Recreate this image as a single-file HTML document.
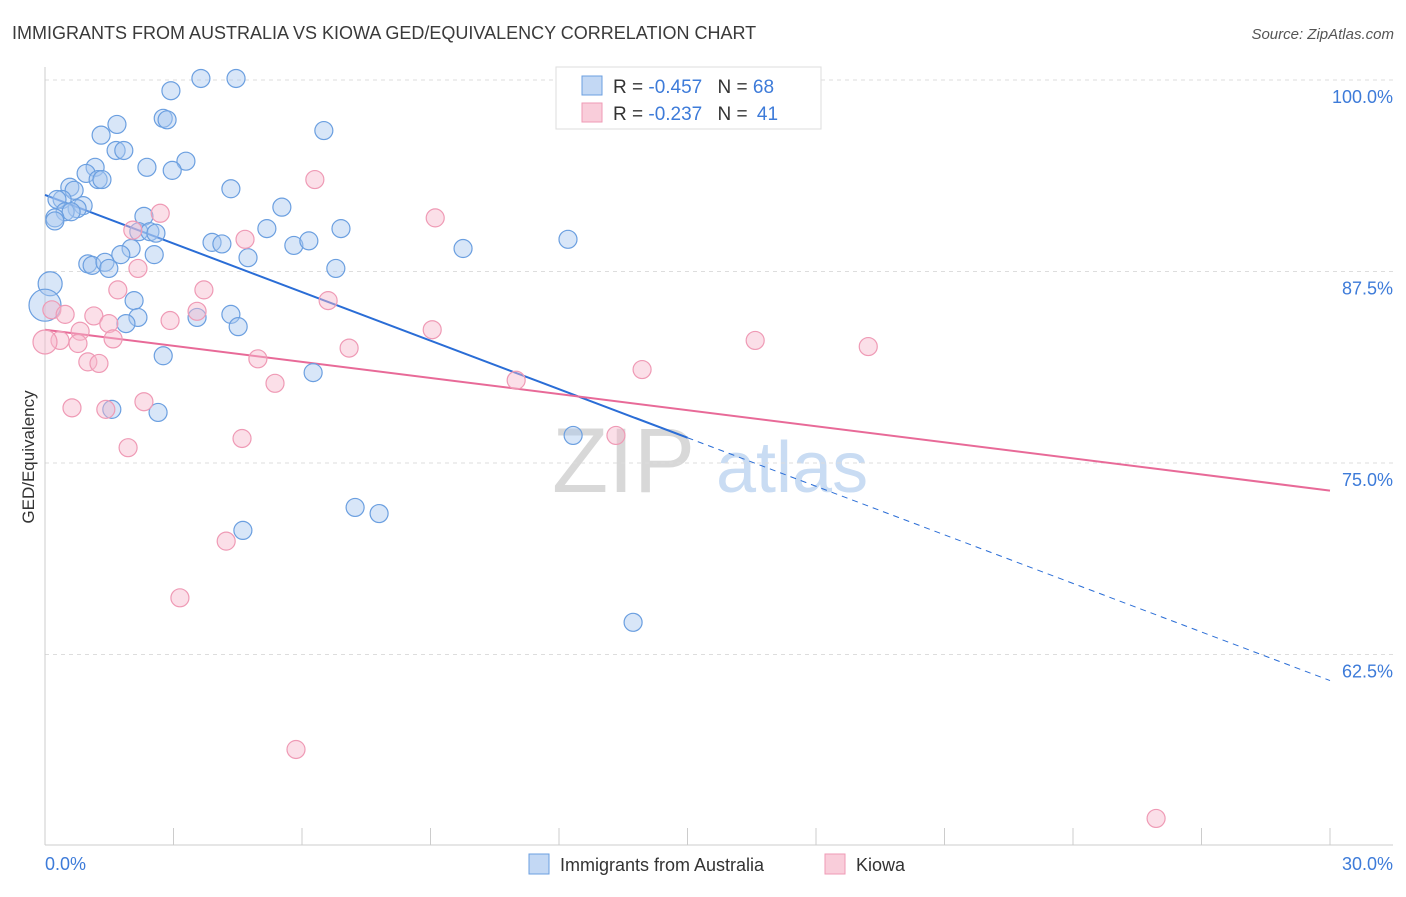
<!DOCTYPE html>
<html><head><meta charset="utf-8">
<style>
body{margin:0;background:#fff;font-family:"Liberation Sans",sans-serif;}
svg text{font-family:"Liberation Sans",sans-serif;}
</style></head>
<body>
<svg id="chart" width="1406" height="892" viewBox="0 0 1406 892" xmlns="http://www.w3.org/2000/svg">
<text x="12" y="39" font-size="18" fill="#3a3a3a">IMMIGRANTS FROM AUSTRALIA VS KIOWA GED/EQUIVALENCY CORRELATION CHART</text>
<text x="1394" y="39" font-size="15" fill="#555" text-anchor="end" font-style="italic">Source: ZipAtlas.com</text>
<g>
<text x="552" y="492" font-size="92" fill="#d8d8d8" font-family="Liberation Serif">ZIP</text>
<text x="716" y="492" font-size="72" fill="#c9dcf3">atlas</text>
</g>
<g id="grid"></g>
<g id="axes"></g>
<g id="trend"></g>
<g id="points"></g>
<text transform="translate(34,457) rotate(-90)" font-size="17" fill="#333" text-anchor="middle">GED/Equivalency</text>
<g>
<rect x="556" y="67" width="265" height="62" fill="#fff" stroke="#ddd"/>
<rect x="582" y="76" width="20" height="19" fill="#a9c8f0" fill-opacity="0.7" stroke="#6b9fe0"/>
<rect x="582" y="103" width="20" height="19" fill="#f6b8cb" fill-opacity="0.7" stroke="#ef9ab5"/>
<text x="613" y="93" font-size="19" fill="#333">R = <tspan fill="#3d7bd9">-0.457</tspan>  <tspan dx="10">N = </tspan><tspan fill="#3d7bd9">68</tspan></text>
<text x="613" y="120" font-size="19" fill="#333">R = <tspan fill="#3d7bd9">-0.237</tspan>  <tspan dx="10">N = </tspan><tspan dx="4" fill="#3d7bd9">41</tspan></text>
</g>
<g>
<rect x="529" y="854" width="20" height="20" fill="#a9c8f0" fill-opacity="0.7" stroke="#6b9fe0"/>
<text x="560" y="871" font-size="18" fill="#333">Immigrants from Australia</text>
<rect x="825" y="854" width="20" height="20" fill="#f6b8cb" fill-opacity="0.7" stroke="#ef9ab5"/>
<text x="856" y="871" font-size="18" fill="#333">Kiowa</text>
</g>
</svg>
<script>
const yTicks=[100,87.5,75,62.5];
const yTickLabels=["100.0%","87.5%","75.0%","62.5%"];
const xTickLabels=["0.0%","30.0%"];
const blueX=[3.64,4.46,2.94,2.76,2.85,1.68,1.31,6.51,1.66,1.84,3.29,2.38,2.97,1.17,0.96,1.24,1.33,0.58,0.68,4.34,0.40,0.28,0.89,0.75,0.47,0.61,0.23,0.23,5.53,2.31,2.19,2.45,2.59,5.18,6.91,3.90,4.13,2.01,5.81,6.16,9.76,12.21,2.55,1.77,4.74,1.00,1.10,1.40,1.49,6.79,0.12,0.0,2.08,2.17,3.55,1.89,4.34,4.51,2.76,6.26,1.56,2.64,12.33,7.24,7.80,4.62,13.73];
const blueY=[100.1,100.1,99.3,97.5,97.4,97.1,96.4,96.7,95.4,95.4,94.7,94.3,94.1,94.3,93.9,93.5,93.5,93.0,92.8,92.9,92.2,92.2,91.8,91.6,91.4,91.4,91.0,90.8,91.7,91.1,90.1,90.1,90.0,90.3,90.3,89.4,89.3,89.0,89.2,89.5,89.0,89.6,88.6,88.6,88.4,88.0,87.9,88.1,87.7,87.7,86.7,85.3,85.6,84.5,84.5,84.1,84.7,83.9,82.0,80.9,78.5,78.3,76.8,72.1,71.7,70.6,64.6];
const blueR=[9,9,9,9,9,9,9,9,9,9,9,9,9,9,9,9,9,9,9,9,9,9,9,9,9,9,9,9,9,9,9,9,9,9,9,9,9,9,9,9,9,9,9,9,9,9,9,9,9,9,12,16,9,9,9,9,9,9,9,9,9,9,9,9,9,9,9];
const pinkX=[16.18,6.30,2.69,9.11,2.05,4.67,2.17,1.70,3.71,6.61,3.55,0.16,0.47,1.14,2.92,1.49,0.82,9.04,1.59,0.35,0.0,0.77,7.10,16.58,19.22,4.97,1.00,1.26,13.94,5.37,11.0,2.31,0.63,1.42,4.60,13.33,1.94,4.23,3.15,5.86,25.94];
const pinkY=[100.1,93.5,91.3,91.0,90.2,89.6,87.7,86.3,86.3,85.6,84.9,85.0,84.7,84.6,84.3,84.1,83.6,83.7,83.1,83.0,82.9,82.8,82.5,83.0,82.6,81.8,81.6,81.5,81.1,80.2,80.4,79.0,78.6,78.5,76.6,76.8,76.0,69.9,66.2,56.3,51.8];
const blueTrend=[92.5,60.8];
const blueSolidEnd=15.0;
const pinkTrend=[83.7,73.2];
const NS="http://www.w3.org/2000/svg";
const xs=v=>45+v*(1285/30);
const ys=v=>80+(100-v)*15.32;
function mk(tag,attrs,parent){const e=document.createElementNS(NS,tag);for(const k in attrs)e.setAttribute(k,attrs[k]);parent.appendChild(e);return e;}
const grid=document.getElementById('grid'),axes=document.getElementById('axes'),trend=document.getElementById('trend'),pts=document.getElementById('points');
yTicks.forEach((t,i)=>{
 const l=mk('line',{x1:45,x2:1393,y1:ys(t),y2:ys(t),stroke:'#ddd','stroke-dasharray':'4,4'},grid);
 
 
 const tx=mk('text',{x:1393,y:ys(t)+23,'font-size':18,fill:'#3d7bd9','text-anchor':'end'},axes);
 tx.textContent=yTickLabels[i];
 
 
});
mk('line',{x1:45,x2:45,y1:67,y2:845,stroke:'#ccc'},axes);
mk('line',{x1:45,x2:1393,y1:845,y2:845,stroke:'#ccc'},axes);
for(let i=0;i<=10;i++){
 const tk=mk('line',{x1:xs(i*3),x2:xs(i*3),y1:828,y2:845,stroke:'#ccc'},axes);
 
 
}
const xl0=mk('text',{x:45,y:870,'font-size':18,fill:'#3d7bd9'},axes);xl0.textContent=xTickLabels[0];


const xl1=mk('text',{x:1393,y:870,'font-size':18,fill:'#3d7bd9','text-anchor':'end'},axes);xl1.textContent=xTickLabels[1];


blueX.forEach((x,i)=>{
 const c=mk('circle',{cx:xs(x),cy:ys(blueY[i]),r:blueR[i],fill:'#a9c8f0','fill-opacity':0.45,stroke:'#6b9fe0','stroke-width':1.2},pts);
 
 
});
pinkX.forEach((x,i)=>{
 const r=(i===20)?12:9;
 const c=mk('circle',{cx:xs(x),cy:ys(pinkY[i]),r:r,fill:'#f6b8cb','fill-opacity':0.45,stroke:'#ef9ab5','stroke-width':1.2},pts);
 
 
});
const bAt=x=>blueTrend[0]+(blueTrend[1]-blueTrend[0])*x/30;
const b1=mk('line',{x1:xs(0),y1:ys(bAt(0)),x2:xs(blueSolidEnd),y2:ys(bAt(blueSolidEnd)),stroke:'#2a6dd6','stroke-width':2},trend);


const b2=mk('line',{x1:xs(blueSolidEnd),y1:ys(bAt(blueSolidEnd)),x2:xs(30),y2:ys(bAt(30)),stroke:'#2a6dd6','stroke-width':1,'stroke-dasharray':'6,5'},trend);


const p1=mk('line',{x1:xs(0),y1:ys(pinkTrend[0]),x2:xs(30),y2:ys(pinkTrend[1]),stroke:'#e86a98','stroke-width':2},trend);


</script>
</body></html>
